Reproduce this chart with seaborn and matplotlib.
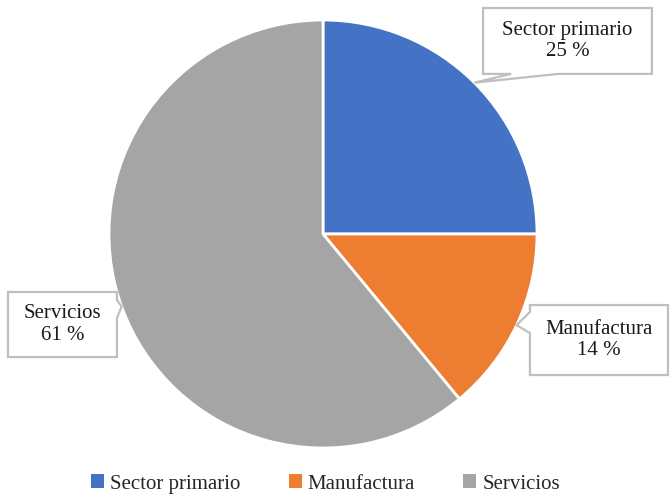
import matplotlib
matplotlib.use("Agg")
import matplotlib.pyplot as plt
from matplotlib.patches import Patch, Polygon
import numpy as np
import seaborn as sns

# Shares of economic activity by sector (%)
sectors = ["Sector primario", "Manufactura", "Servicios"]
shares = [25, 14, 61]
sector_colors = ["#4472C4", "#ED7D31", "#A5A5A5"]

# Callout boxes in pie-radius units: (left, bottom, right, top),
# the side the pointer leaves from and the span of its base on that side
label_boxes = [(0.748, 0.748, 1.537, 1.056),
               (0.967, -0.659, 1.612, -0.332),
               (-1.472, -0.575, -0.963, -0.271)]
pointer_side = ["bottom", "left", "right"]
pointer_base = [(0.879, 1.098), (-0.364, -0.463), (-0.308, -0.393)]

sns.set_theme(style="white")
plt.rcParams["font.family"] = ["Liberation Serif", "DejaVu Serif"]

palette = sns.color_palette(sector_colors)

fig = plt.figure(figsize=(6.70, 4.97), dpi=100)
fig.patch.set_facecolor("white")
ax = fig.add_axes([109 / 670, 49 / 497, 428 / 670, 428 / 497])

wedges, _ = ax.pie(
    shares,
    colors=palette,
    startangle=90,
    counterclock=False,
    radius=1.0,
    wedgeprops=dict(edgecolor="white", linewidth=2),
)
ax.set_xlim(-1, 1)
ax.set_ylim(-1, 1)
ax.set_aspect("equal")
ax.axis("off")


def callout_outline(box, side, base, tip):
    """Box outline walked clockwise from the top-left corner, with a
    pointer spliced into the given side."""
    x0, y0, x1, y1 = box
    b0, b1 = base
    if side == "bottom":
        return [(x0, y1), (x1, y1), (x1, y0), (b1, y0), tip, (b0, y0), (x0, y0)]
    if side == "left":
        return [(x0, y1), (x1, y1), (x1, y0), (x0, y0), (x0, b1), tip, (x0, b0)]
    if side == "right":
        return [(x0, y1), (x1, y1), (x1, b0), tip, (x1, b1), (x1, y0), (x0, y0)]
    return [(x0, y1), (x1, y1), (x1, y0), (x0, y0)]


for w, name, val, box, side, base in zip(wedges, sectors, shares,
                                         label_boxes, pointer_side, pointer_base):
    mid = np.deg2rad((w.theta1 + w.theta2) / 2)
    tip = (np.cos(mid), np.sin(mid))
    outline = Polygon(callout_outline(box, side, base, tip), closed=True,
                      facecolor="white", edgecolor="#BFBFBF", linewidth=1.6,
                      joinstyle="miter", clip_on=False, zorder=3)
    ax.add_patch(outline)
    cx = (box[0] + box[2]) / 2
    cy = (box[1] + box[3]) / 2
    ax.text(cx, cy, f"{name}\n{val} %", ha="center", va="center",
            fontsize=15, color="#1a1a1a", linespacing=1.15,
            clip_on=False, zorder=4)

handles = [Patch(facecolor=c, edgecolor="none") for c in palette]
fig.legend(
    handles,
    sectors,
    loc="center",
    bbox_to_anchor=(325.5 / 670, 1 - 484 / 497),
    ncol=3,
    frameon=False,
    fontsize=15,
    handlelength=0.62,
    handleheight=0.62,
    handletextpad=0.3,
    columnspacing=2.3,
    borderpad=0,
    borderaxespad=0,
)

fig.savefig("out.png", dpi=100, facecolor="white")
